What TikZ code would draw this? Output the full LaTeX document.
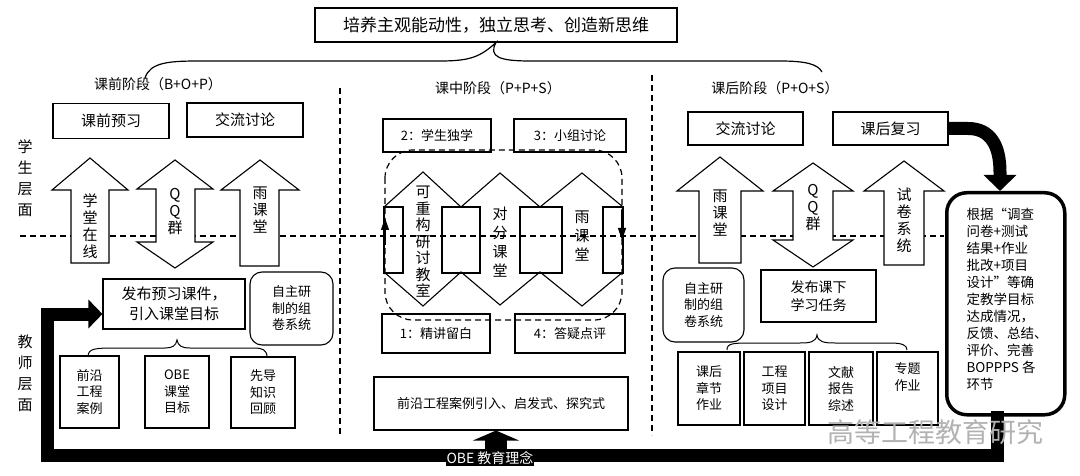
\documentclass[tikz,border=0pt]{standalone}
\usepackage{fontspec}
\setmainfont{Liberation Serif}
\newfontfamily\cjk{Noto Sans CJK SC}
\usetikzlibrary{arrows.meta}
\newcommand\uparr[7]{\draw[fill=white] ({(#1+#2)/2},#5) -- (#2,#6) -- (#4,#6) -- (#4,#7) -- (#3,#7) -- (#3,#6) -- (#1,#6) -- cycle;}
\newcommand\dblarr[8]{\draw[fill=white] ({(#1+#2)/2},#5) -- (#2,#6) -- (#4,#6) -- (#4,#7) -- (#2,#7) -- ({(#1+#2)/2},#8) -- (#1,#7) -- (#3,#7) -- (#3,#6) -- (#1,#6) -- cycle;}
\begin{document}
\begin{tikzpicture}[x=1pt,y=-1pt,line width=1.1pt,
  box/.style={draw,font=\cjk\fontsize{15}{18}\selectfont,inner sep=0},
  sbox/.style={draw,font=\cjk\fontsize{13}{16.5}\selectfont,align=center,inner sep=0},
  lab/.style={font=\cjk\fontsize{14}{16}\selectfont},
  vt/.style={font=\cjk\fontsize{15}{17}\selectfont,align=center,inner sep=0},
  dsh/.style={dash pattern=on 6pt off 4pt,line width=1.2pt}]
\useasboundingbox (0,0) rectangle (1080,476);
% top
\node[box,minimum width=362,minimum height=34,font=\cjk\fontsize{17}{20}\selectfont] (goal) at (496,25) {培养主观能动性，独立思考、创造新思维};
\draw[line width=1.2pt] (145,78) .. controls (150,62) and (170,61) .. (200,61) -- (440,61) .. controls (470,61) and (480,57) .. (goal.south) .. controls (488,57) and (500,61) .. (530,61) -- (780,61) .. controls (805,61) and (818,64) .. (822,72);
\node[lab] (p1) at (158,84) {课前阶段（B+O+P）};
\node[lab] (p2) at (498,88) {课中阶段（P+P+S）};
\node[lab] (p3) at (775,88) {课后阶段（P+O+S）};
\draw[dsh] (340,88) -- (340,435);
\draw[dsh] (652,75) -- (652,435);
\draw[dsh] (20,236) -- (944,236);
\node[vt,font=\cjk\fontsize{15}{21}\selectfont] (stu) at (25,178) {学\\生\\层\\面};
\node[vt,font=\cjk\fontsize{15}{21}\selectfont] (tea) at (25,373) {教\\师\\层\\面};
% left
\node[box,minimum width=116,minimum height=35] (pre) at (111,121) {课前预习};
\node[box,minimum width=116,minimum height=34] (dis1) at (245,120) {交流讨论};
\uparr{52}{128}{71}{109}{158}{190}{263}
\dblarr{137}{213}{156}{195}{160}{189}{242}{268}
\uparr{221}{299}{240}{279}{160}{190}{266}
\node[vt] at (90,226) {学\\堂\\在\\线};
\node[vt] at (175,212) {Q\\Q\\群};
\node[vt] at (260,210) {雨\\课\\堂};
\node[box,align=center,minimum width=142,minimum height=50,font=\cjk\fontsize{15}{20}\selectfont] (pub) at (174,304) {发布预习课件，\\引入课堂目标};
\node[sbox,rounded corners=12pt,minimum width=83,minimum height=73] (zz1) at (291.5,308.5) {自主研\\制的组\\卷系统};
\draw[line width=1pt] (88,357) .. controls (88,348) and (95,348) .. (120,348) -- (165,348) .. controls (172,348) and (176,346) .. (177,340) .. controls (178,346) and (182,348) .. (190,348) -- (255,348) .. controls (262,348) and (267,350) .. (267,357);
\node[sbox,minimum width=59,minimum height=72] (c1) at (89.5,392) {前沿\\工程\\案例};
\node[sbox,minimum width=64,minimum height=72] (c2) at (177,392) {OBE\\课堂\\目标};
\node[sbox,minimum width=64,minimum height=71] (c3) at (263,392.5) {先导\\知识\\回顾};
% middle
\node[sbox,minimum width=108,minimum height=33] (m2) at (437,135.5) {2：学生独学};
\node[sbox,minimum width=112,minimum height=33] (m3) at (570,135.5) {3：小组讨论};
\draw[fill=white] (384,207) -- (423,172) -- (461,207) -- (500,173) -- (540,207) -- (582,173) -- (623,207);
\draw[fill=white] (384,272) -- (423,306) -- (461,272) -- (500,305) -- (540,272) -- (582,306) -- (623,272);
\draw (384,207) rectangle (403,273);
\draw (442,207) rectangle (480,273);
\draw (520,207) rectangle (562,273);
\draw (603,207) rectangle (623,273);
\draw[dsh,rounded corners=28pt] (385,150) rectangle (622,320);
\draw[-{Triangle[length=12pt,width=8pt]},line width=1.2pt] (385,245) -- (385,218);
\draw[-{Triangle[length=12pt,width=8pt]},line width=1.2pt] (622,210) -- (622,240);
\node[vt,font=\cjk\fontsize{15}{16.5}\selectfont] at (423,242) {可\\重\\构\\研\\讨\\教\\室};
\node[vt,font=\cjk\fontsize{15}{19}\selectfont] at (500,242) {对\\分\\课\\堂};
\node[vt,font=\cjk\fontsize{15}{19}\selectfont] at (582,236) {雨\\课\\堂};
\node[sbox,minimum width=108,minimum height=39] (m1) at (436,333.5) {1：精讲留白};
\node[sbox,minimum width=110,minimum height=39] (m4) at (570,333.5) {4：答疑点评};
\node[sbox,minimum width=254,minimum height=53] (case) at (501,403.5) {前沿工程案例引入、启发式、探究式};
% right
\node[box,minimum width=115,minimum height=33] (dis2) at (745.5,128.5) {交流讨论};
\node[box,minimum width=115,minimum height=33] (rev) at (890.5,128.5) {课后复习};
\uparr{677}{763}{699}{741}{157}{191}{263}
\dblarr{773}{853}{793}{833}{163}{191}{240}{267}
\uparr{864}{944}{884}{924}{161}{191}{265}
\node[vt] at (720,213) {雨\\课\\堂};
\node[vt] at (813,208) {Q\\Q\\群};
\node[vt] at (904,220) {试\\卷\\系\\统};
\node[sbox,rounded corners=12pt,minimum width=81,minimum height=74] (zz2) at (703.5,305) {自主研\\制的组\\卷系统};
\node[sbox,minimum width=115,minimum height=52,font=\cjk\fontsize{14}{18}\selectfont] (pub2) at (818.5,296) {发布课下\\学习任务};
\draw[line width=1pt] (727,350) .. controls (727,343) and (733,343) .. (755,343) -- (800,343) .. controls (810,343) and (816,342) .. (817,335) .. controls (818,342) and (824,343) .. (835,343) -- (890,343) .. controls (902,343) and (907,345) .. (907,350);
\node[sbox,minimum width=62,minimum height=73] (d1) at (709,388.5) {课后\\章节\\作业};
\node[sbox,minimum width=61,minimum height=73] (d2) at (774.5,388.5) {工程\\项目\\设计};
\node[sbox,minimum width=64,minimum height=73] (d3) at (841,388.5) {文献\\报告\\综述};
\node[sbox,minimum width=61,minimum height=73,text depth=24pt] (d4) at (907.5,388.5) {专题\\作业};
\node[draw,line width=3.5pt,rounded corners=20pt,minimum width=118,minimum height=222,inner sep=0,anchor=north west] (fb) at (945,191) {};
\node[font=\cjk\fontsize{13.5}{17}\selectfont,align=left,anchor=north west,inner sep=0] (fbt) at (966,208) {根据“调查\\问卷+测试\\结果+作业\\批改+项目\\设计”等确\\定教学目标\\达成情况，\\反馈、总结、\\评价、完善\\BOPPPS 各\\环节};
% black arrows
\draw[line width=13pt,-{Triangle[length=16pt,width=32pt]}] (rev.east) -- (968,128.5) .. controls (990,128.5) and (1000,145) .. (1000,172) -- (fb.north -| 1000,0);
\draw[line width=13pt,-{Triangle[length=14pt,width=28pt]}] (997,411) -- (997,455) -- (47,455) -- (47,314) -- (pub.west |- 0,314);
\draw[line width=22pt,-{Triangle[length=10pt,width=46pt]}] (496,452) -- (case.south -| 496,0);
\node[font=\cjk\fontsize{14}{16}\selectfont,text=white,inner sep=1pt,fill=black] (obe) at (490,458) {OBE 教育理念};
\node[font=\cjk\fontsize{27}{29}\selectfont,text=black!30] (wm) at (935,432) {高等工程教育研究};
\end{tikzpicture}
\end{document}
